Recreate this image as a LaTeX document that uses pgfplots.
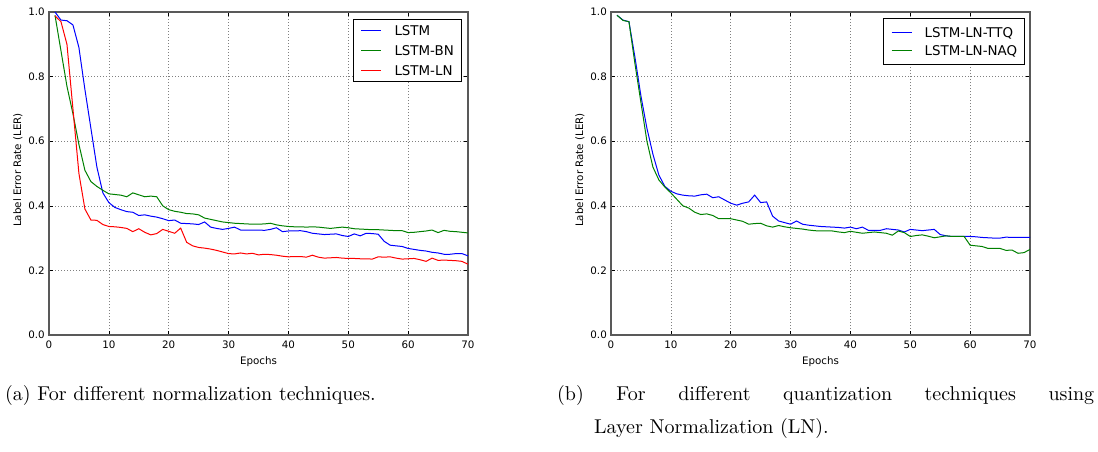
\documentclass[border=0pt]{standalone}
\usepackage{fontspec}
\usepackage{pgfplots}
\pgfplotsset{compat=1.18}
\newfontfamily\dv{DejaVu Sans}
\newfontfamily\capfont{lmroman10-regular}[Extension=.otf]

\definecolor{mb}{RGB}{0,0,255}
\definecolor{mg}{RGB}{0,128,0}
\definecolor{mr}{RGB}{255,0,0}

\pgfplotstableread{
e lstm bn ln
1 1.00 0.99 0.988
2 0.975 0.88 0.97
3 0.973 0.77 0.90
4 0.96 0.685 0.70
5 0.89 0.59 0.50
6 0.76 0.51 0.39
7 0.64 0.475 0.356
8 0.52 0.46 0.355
9 0.44 0.448 0.342
10 0.41 0.437 0.336
11 0.395 0.435 0.335
12 0.388 0.433 0.333
13 0.382 0.428 0.33
14 0.38 0.44 0.32
15 0.37 0.434 0.329
16 0.372 0.428 0.318
17 0.368 0.43 0.31
18 0.365 0.428 0.314
19 0.36 0.40 0.327
20 0.354 0.388 0.321
21 0.356 0.383 0.315
22 0.346 0.38 0.331
23 0.345 0.376 0.287
24 0.344 0.375 0.276
25 0.342 0.372 0.271
26 0.35 0.362 0.269
27 0.334 0.358 0.266
28 0.33 0.354 0.262
29 0.327 0.35 0.257
30 0.33 0.348 0.252
31 0.334 0.346 0.251
32 0.325 0.345 0.254
33 0.325 0.344 0.251
34 0.325 0.343 0.253
35 0.325 0.343 0.248
36 0.324 0.344 0.25
37 0.327 0.346 0.249
38 0.332 0.341 0.247
39 0.32 0.338 0.244
40 0.322 0.336 0.242
41 0.322 0.335 0.243
42 0.323 0.335 0.243
43 0.32 0.334 0.241
44 0.315 0.335 0.247
45 0.313 0.334 0.241
46 0.311 0.332 0.238
47 0.312 0.33 0.239
48 0.313 0.332 0.24
49 0.308 0.334 0.238
50 0.305 0.332 0.237
51 0.313 0.329 0.237
52 0.307 0.328 0.236
53 0.315 0.327 0.236
54 0.314 0.326 0.235
55 0.312 0.326 0.242
56 0.29 0.325 0.241
57 0.278 0.324 0.242
58 0.276 0.323 0.238
59 0.274 0.323 0.235
60 0.268 0.317 0.236
61 0.265 0.318 0.237
62 0.262 0.32 0.233
63 0.26 0.322 0.228
64 0.256 0.325 0.238
65 0.254 0.317 0.231
66 0.25 0.324 0.232
67 0.25 0.321 0.231
68 0.252 0.32 0.23
69 0.252 0.318 0.228
70 0.245 0.316 0.219
}\lefttable

\pgfplotstableread{
e ttq naq
1 0.99 0.99
2 0.975 0.974
3 0.97 0.97
4 0.86 0.84
5 0.74 0.72
6 0.64 0.60
7 0.56 0.52
8 0.495 0.48
9 0.46 0.458
10 0.445 0.44
11 0.437 0.42
12 0.433 0.40
13 0.431 0.393
14 0.43 0.38
15 0.434 0.373
16 0.436 0.375
17 0.425 0.37
18 0.428 0.36
19 0.418 0.36
20 0.408 0.36
21 0.402 0.356
22 0.408 0.352
23 0.412 0.343
24 0.433 0.345
25 0.41 0.346
26 0.412 0.338
27 0.368 0.334
28 0.353 0.339
29 0.348 0.335
30 0.343 0.332
31 0.353 0.33
32 0.343 0.328
33 0.34 0.325
34 0.338 0.323
35 0.336 0.322
36 0.335 0.322
37 0.334 0.322
38 0.333 0.319
39 0.331 0.317
40 0.334 0.321
41 0.329 0.318
42 0.334 0.315
43 0.324 0.317
44 0.324 0.319
45 0.324 0.317
46 0.329 0.315
47 0.327 0.309
48 0.325 0.322
49 0.319 0.317
50 0.327 0.305
51 0.325 0.308
52 0.323 0.31
53 0.325 0.306
54 0.327 0.301
55 0.311 0.304
56 0.307 0.307
57 0.305 0.305
58 0.305 0.305
59 0.305 0.305
60 0.305 0.278
61 0.304 0.276
62 0.302 0.274
63 0.301 0.268
64 0.30 0.268
65 0.30 0.268
66 0.303 0.262
67 0.302 0.263
68 0.302 0.253
69 0.302 0.255
70 0.302 0.265
}\righttable

\pgfplotsset{
  mpl/.style={
    scale only axis, width=419pt, height=323pt,
    xmin=0, xmax=70, ymin=0, ymax=1,
    xtick={0,10,20,30,40,50,60,70},
    ytick={0,0.2,0.4,0.6,0.8,1.0},
    /pgf/number format/assume math mode=true,
    yticklabel style={/pgf/number format/fixed, /pgf/number format/fixed zerofill, /pgf/number format/precision=1},
    tick label style={font=\dv\fontsize{10.3}{12}\selectfont},
    yticklabel style={inner sep=0pt, anchor=east, xshift=-4pt},
    xticklabel style={inner sep=0pt, anchor=north, yshift=-6pt},
    tick align=inside, tick pos=both,
    major tick length=4pt,
    every tick/.style={black, line width=0.6pt},
    axis line style={black!65, line width=1.2pt},
    grid=major,
    major grid style={black!50, line width=0.6pt, dash pattern=on 1pt off 2pt},
    label style={font=\dv\fontsize{10.3}{12}\selectfont},
    xlabel={Epochs},
    xlabel style={at={(axis description cs:0.5,0)}, anchor=base, inner sep=0pt, yshift=-29pt},
    ylabel={Label Error Rate (LER)},
    ylabel style={at={(axis description cs:0,0.5)}, anchor=center, inner sep=0pt, yshift=31pt, xshift=3.5pt},
    legend cell align=left,
    legend image code/.code={\draw[##1, line width=1pt] (0pt,0pt) -- (20pt,0pt);},
    legend style={font=\dv\fontsize{13.4}{16}\selectfont, draw=black, line width=0.8pt,
      at={(rel axis cs:1,1)}, anchor=north east,
      inner xsep=7.5pt, column sep=12.7pt,
      nodes={inner sep=0pt, text height=9.7pt, text depth=0pt}},
    every axis plot/.append style={line width=1pt},
  }
}

\begin{document}
\begin{tikzpicture}
\useasboundingbox (0,0) rectangle (1098pt,451pt);

\begin{axis}[mpl, at={(49pt,116pt)}, anchor=south west,
  legend style={xshift=-6.3pt, yshift=-7.3pt, inner ysep=6pt, row sep=10.1pt}]
\addplot[mb] table[x=e, y=lstm] {\lefttable};
\addlegendentry{LSTM}
\addplot[mg] table[x=e, y=bn] {\lefttable};
\addlegendentry{LSTM-BN}
\addplot[mr] table[x=e, y=ln] {\lefttable};
\addlegendentry{LSTM-LN}
\end{axis}

\begin{axis}[mpl, at={(611pt,116pt)}, anchor=south west,
  legend style={xshift=-5pt, yshift=-6.3pt, inner ysep=9pt, row sep=8.6pt}]
\addplot[draw=blue] table[x=e, y=ttq] {\righttable};
\addlegendentry{LSTM-LN-TTQ}
\addplot[draw=mg] table[x=e, y=naq] {\righttable};
\addlegendentry{LSTM-LN-NAQ}
\end{axis}

\node[anchor=base west, inner sep=0pt, font=\capfont\fontsize{20}{24}\selectfont] at (5pt,51pt) {(a) For different normalization techniques.};
\node[anchor=base west, inner sep=0pt, font=\capfont\fontsize{20}{24}\selectfont] at (557pt,51pt) {\makebox[537pt][s]{(b) For different quantization techniques using}};
\node[anchor=base west, inner sep=0pt, font=\capfont\fontsize{20}{24}\selectfont] at (594pt,18pt) {Layer Normalization (LN).};
\end{tikzpicture}
\end{document}
